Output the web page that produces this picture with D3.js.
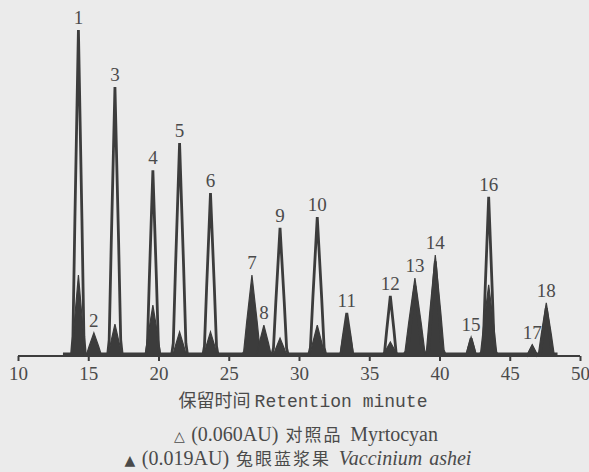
<!DOCTYPE html>
<html>
<head>
<meta charset="utf-8">
<script src="https://cdn.jsdelivr.net/npm/d3@7/dist/d3.min.js"></script>
<style>
  html, body { margin: 0; padding: 0; background: #ebebeb; }
  svg { display: block; }
</style>
</head>
<body>
<svg id="chart" width="589" height="472"></svg>
<script>
// ---- data ----
const retentionTicks = [10, 15, 20, 25, 30, 35, 40, 45, 50];
const peakLabels = ["1","2","3","4","5","6","7","8","9","10","11","12","13","14","15","16","17","18"];
const peakTimes = [14.3, 15.4, 16.9, 19.6, 21.5, 23.7, 26.65, 27.5, 28.65, 31.3, 33.4, 36.5, 38.25, 39.7, 42.25, 43.5, 46.6, 47.6];
// reference standard, Myrtocyan (0.060 AU) – outlined peaks, % of full scale
const referenceHeights = [100, null, 82.5, 57, 65.3, 50, null, null, 39.3, 42.6, 13.2, 18.4, 21.5, 29, 5.4, 48.8, 2.8, 14.7];
const referenceWidths  = [1.0, null, 1.05, 1.0, 1.15, 1.1, null, null, 1.2, 1.25, 1.05, 1.05, 1.3, 1.2, 0.75, 1.0, 0.75, 1.05];
// sample, Vaccinium ashei (0.019 AU) – filled peaks, % of full scale
const sampleHeights = [24.8, 7.1, 9.8, 15.6, 7.4, 7.4, 24.8, 9.5, 5.5, 9.5, 12.6, 4.3, 23.9, 31, 5.8, 21.8, 3.4, 16.3];
const sampleWidths  = [1.15, 1.35, 1.2, 1.35, 1.2, 1.2, 1.5, 1.3, 1.2, 1.3, 1.2, 1.25, 1.8, 1.6, 0.95, 1.45, 0.95, 1.4];
const sampleBaseline = [13.2, 48.4, 1.1]; // start, end, level
const xTitleCN = "保留时间";
const xTitleEN = "Retention minute";
const legendRef = ["△", "(0.060AU)", "对照品", "Myrtocyan"];
const legendSample = ["▲", "(0.019AU)", "兔眼蓝浆果", "Vaccinium ashei"];

// ---- drawing ----
const ink = "#3c3c3c";
const svg = d3.select("#chart");
const x = d3.scaleLinear().domain([10, 50]).range([18, 580]);
const y = d3.scaleLinear().domain([0, 100]).range([356, 30]);

// peak outline template (fractions of half-width vs fractions of height)
const profile = [[-1, 0], [-0.78, 0.06], [-0.5, 0.42], [0, 1], [0.5, 0.42], [0.78, 0.06], [1, 0]];
const peakLine = d3.line()
  .x(d => x(d[0]))
  .y(d => y(d[1]))
  .curve(d3.curveLinear);
function peakPoints(t, h, w) {
  return profile.map(([fx, fy]) => [t + fx * w / 2, fy * h]);
}

const plot = svg.append("g");

// sample baseline band
plot.append("path")
  .attr("d", d3.area().x(d => x(d)).y0(y(0)).y1(y(sampleBaseline[2]))([sampleBaseline[0], sampleBaseline[1]]))
  .attr("fill", ink);

// sample filled peaks
peakTimes.forEach((t, i) => {
  if (sampleHeights[i] == null) return;
  plot.append("path")
    .attr("d", peakLine(peakPoints(t, sampleHeights[i], sampleWidths[i])) + "Z")
    .attr("fill", ink)
    .attr("stroke", ink)
    .attr("stroke-width", 1.2);
});

// reference outlined peaks
peakTimes.forEach((t, i) => {
  if (referenceHeights[i] == null) return;
  plot.append("path")
    .attr("d", peakLine(peakPoints(t, referenceHeights[i], referenceWidths[i])))
    .attr("fill", "none")
    .attr("stroke", ink)
    .attr("stroke-width", 2.8)
    .attr("stroke-linejoin", "miter");
});

// axis
const axis = d3.axisBottom(x).tickValues(retentionTicks).tickSize(5).tickPadding(6).tickFormat(d3.format("d"));
const gAxis = svg.append("g").attr("transform", `translate(0,${y(0)})`).call(axis);
gAxis.select(".domain").attr("stroke", ink).attr("stroke-width", 2.2).attr("d", `M${x(10)},0H${x(50)}`);
gAxis.selectAll(".tick line").attr("stroke", ink).attr("stroke-width", 2);
gAxis.selectAll(".tick text")
  .attr("fill", "#4a4a4a")
  .style("font-family", "'Liberation Serif', 'DejaVu Serif', serif")
  .style("font-size", "19px");

// peak number labels
peakTimes.forEach((t, i) => {
  const top = Math.max(referenceHeights[i] || 0, sampleHeights[i] || 0);
  svg.append("text")
    .attr("x", x(t))
    .attr("y", y(top) - 6)
    .attr("text-anchor", "middle")
    .attr("fill", "#4a4a4a")
    .style("font-family", "'Liberation Serif', serif")
    .style("font-size", "19px")
    .text(peakLabels[i]);
});

// x axis title
const title = svg.append("text")
  .attr("x", 303).attr("y", 407)
  .attr("text-anchor", "middle")
  .attr("fill", "#4a4a4a")
  .style("font-size", "18px");
title.append("tspan").style("font-family", "'Noto Sans CJK SC', sans-serif").text(xTitleCN + " ");
title.append("tspan").style("font-family", "'Liberation Mono', monospace").text(xTitleEN);

// legend
function legendLine(parts, cx, yy, italicLast) {
  const t = svg.append("text")
    .attr("x", cx).attr("y", yy)
    .attr("text-anchor", "middle")
    .attr("fill", "#4a4a4a")
    .style("font-family", "'Liberation Serif', serif")
    .style("font-size", "20px")
    .style("word-spacing", "2px");
  t.append("tspan").style("font-family", "'DejaVu Sans', sans-serif").style("font-size", "14px").text(parts[0] + " ");
  t.append("tspan").text(parts[1] + " ");
  t.append("tspan").style("font-family", "'Noto Sans CJK SC', sans-serif").style("font-size", "17px")
    .style("letter-spacing", "2px").text(parts[2] + " ");
  t.append("tspan").style("font-style", italicLast ? "italic" : "normal").text(parts[3]);
}
legendLine(legendRef, 306, 441, false);
legendLine(legendSample, 298, 465, true);
</script>
</body>
</html>
